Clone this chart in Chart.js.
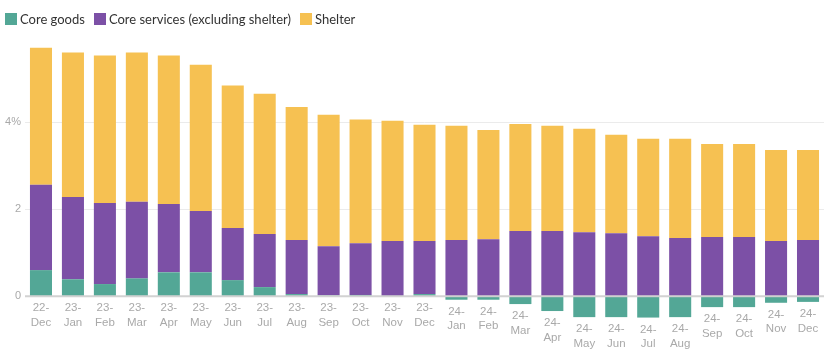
<!DOCTYPE html>
<html>
<head>
<meta charset="utf-8">
<script src="https://cdn.jsdelivr.net/npm/chart.js@4.4.1/dist/chart.umd.min.js"></script>
<style>
  html, body { margin: 0; padding: 0; background: #fff; }
  #wrap { position: relative; width: 837px; height: 360px; }
  #legend { position: absolute; left: 5px; top: 11px; font-family: Lato, sans-serif; font-size: 13px; color: #333; display: flex; align-items: center; }
  #legend .item { display: flex; align-items: center; margin-right: 9px; }
  #legend .box { width: 12px; height: 12px; margin-right: 3px; }
</style>
</head>
<body>
<div id="wrap">
  <canvas id="c" width="837" height="360"></canvas>
  <div id="legend"></div>
</div>
<script>
const categories = ['22-Dec','23-Jan','23-Feb','23-Mar','23-Apr','23-May','23-Jun','23-Jul','23-Aug','23-Sep','23-Oct','23-Nov','23-Dec',
  '24-Jan','24-Feb','24-Mar','24-Apr','24-May','24-Jun','24-Jul','24-Aug','24-Sep','24-Oct','24-Nov','24-Dec'];
const coreGoods = [0.60,0.39,0.28,0.41,0.55,0.55,0.37,0.21,0.05,0.02,0.03,0.01,0.05,
  -0.08,-0.08,-0.18,-0.34,-0.48,-0.48,-0.49,-0.48,-0.25,-0.25,-0.15,-0.13];
const coreServices = [1.96,1.89,1.86,1.76,1.57,1.41,1.20,1.22,1.24,1.13,1.19,1.26,1.22,
  1.29,1.31,1.50,1.50,1.47,1.45,1.38,1.34,1.36,1.36,1.27,1.29];
const shelter = [3.15,3.32,3.39,3.43,3.41,3.36,3.27,3.22,3.06,3.02,2.84,2.76,2.67,
  2.63,2.51,2.46,2.42,2.38,2.26,2.24,2.28,2.14,2.14,2.09,2.07];
const yTicks = [0, 2, 4];
const seriesNames = ['Core goods', 'Core services (excluding shelter)', 'Shelter'];
const colors = ['#53a796', '#7c50a6', '#f6c152'];

const legend = document.getElementById('legend');
seriesNames.forEach((n, i) => {
  const it = document.createElement('div'); it.className = 'item';
  const b = document.createElement('div'); b.className = 'box'; b.style.background = colors[i];
  const t = document.createElement('span'); t.textContent = n;
  it.appendChild(b); it.appendChild(t); legend.appendChild(it);
});

const overlay = {
  id: 'overlay',
  afterDatasetsDraw(chart) {
    const ctx = chart.ctx, y = chart.scales.y, x = chart.scales.x, area = chart.chartArea;
    ctx.save();
    ctx.strokeStyle = 'rgba(205,205,205,0.9)';
    ctx.lineWidth = 2;
    const y0 = y.getPixelForValue(0);
    ctx.beginPath(); ctx.moveTo(area.left, y0); ctx.lineTo(area.right, y0); ctx.stroke();
    ctx.fillStyle = '#a9a9a9';
    ctx.font = '11.5px "Liberation Sans", Arial, sans-serif';
    ctx.textAlign = 'center'; ctx.textBaseline = 'middle';
    categories.forEach((c, i) => {
      const cx = x.getPixelForValue(i);
      const bottom = y.getPixelForValue(Math.min(coreGoods[i], 0));
      const parts = c.split('-');
      ctx.fillText(parts[0] + '-', cx, bottom + 12);
      ctx.fillText(parts[1], cx, bottom + 26.5);
    });
    ctx.restore();
  }
};

new Chart(document.getElementById('c'), {
  type: 'bar',
  data: {
    labels: categories,
    datasets: [
      { label: seriesNames[0], data: coreGoods, backgroundColor: colors[0] },
      { label: seriesNames[1], data: coreServices, backgroundColor: colors[1] },
      { label: seriesNames[2], data: shelter, backgroundColor: colors[2] }
    ]
  },
  options: {
    responsive: false,
    animation: false,
    layout: { padding: { top: 46, bottom: 42, left: 0, right: 13 } },
    datasets: { bar: { barPercentage: 0.69, categoryPercentage: 1 } },
    plugins: { legend: { display: false }, tooltip: { enabled: false } },
    scales: {
      x: { stacked: true, display: false },
      y: {
        stacked: true, min: -0.5, max: 5.75,
        afterBuildTicks: s => { s.ticks = yTicks.map(v => ({ value: v })); },
        afterFit: s => { s.width = 25; },
        border: { display: false },
        grid: { drawTicks: false, color: c => c.tick && c.tick.value === 0 ? 'rgba(0,0,0,0)' : '#ebebeb', lineWidth: 1 },
        ticks: {
          padding: 4, color: '#a9a9a9',
          font: { family: '"Liberation Sans", Arial, sans-serif', size: 11 },
          callback: v => v === 4 ? '4%' : String(v)
        }
      }
    }
  },
  plugins: [overlay]
});
</script>
</body>
</html>
